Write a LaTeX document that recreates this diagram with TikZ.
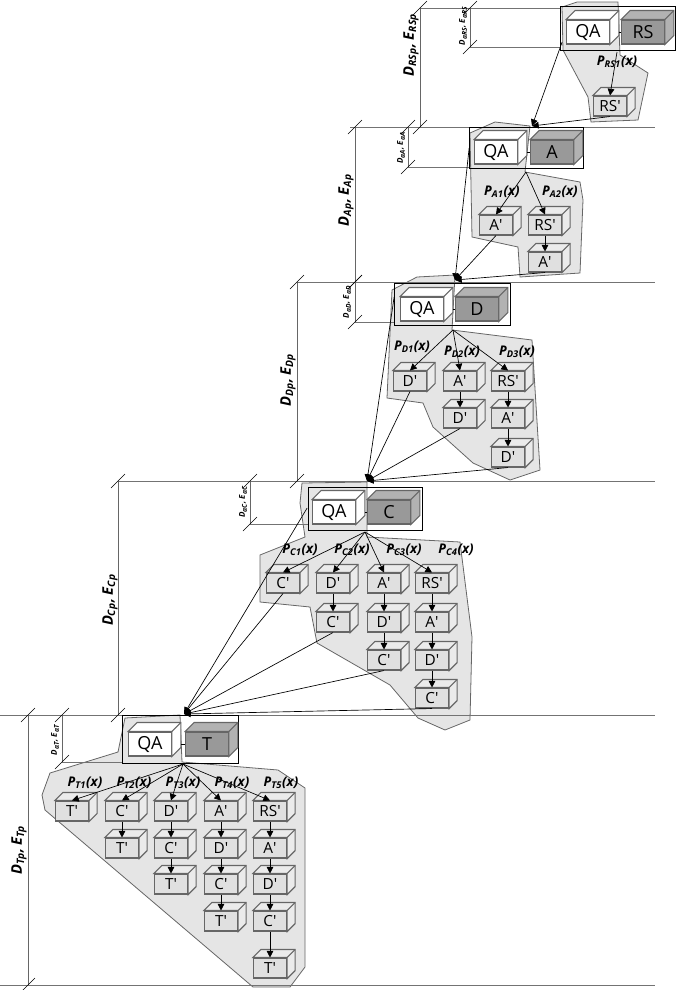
\documentclass[tikz,border=0pt]{standalone}
\usepackage{fontspec}
\setmainfont{Open Sans}
\usetikzlibrary{calc}
\usetikzlibrary{arrows.meta}

\tikzset{
  main/.style={rectangle, draw=black!60, line width=0.8pt, minimum width=32pt, minimum height=18pt, inner sep=0pt, font=\fontsize{13.5}{13.5}\selectfont},
  qa/.style={main, fill=white},
  task/.style={main, fill=black!40},
  sub/.style={rectangle, draw=black!60, line width=0.8pt, fill=black!12, minimum width=25pt, minimum height=15pt, inner sep=0pt, font=\fontsize{11.5}{11.5}\selectfont},
  frame/.style={draw=black, line width=0.6pt},
  zone/.style={draw=black!60, fill=black!10, line width=0.6pt},
  level/.style={draw=black!55, line width=0.6pt},
  dim/.style={draw=black!60, line width=0.6pt},
  plab/.style={font=\fontsize{10}{10}\selectfont\bfseries\itshape},
  dlab/.style={rotate=90, font=\fontsize{11}{11}\selectfont\bfseries\itshape},
  slab/.style={rotate=90, font=\fontsize{6}{6}\selectfont\bfseries\itshape},
  go/.style={-{Triangle[length=5pt,width=5pt]}, line width=0.5pt},
}

% 3D box: name, position, text, style, face colour, depth
\newcommand\cube[6]{%
  \node[#4] (#1) at (#2) {#3};
  \filldraw[draw=black!60, line width=0.8pt, fill=#5] (#1.north west) -- ++(#6,-#6) -- ($(#1.north east)+(#6,-#6)$) -- ($(#1.south east)+(#6,-#6)$) -- (#1.south east) -- (#1.north east) -- cycle;
  \draw[draw=black!60, line width=0.8pt] (#1.north east) -- ++(#6,-#6);
}
\newcommand\subcube[3]{\cube{#1}{#2}{#3}{sub}{black!8}{8}}
\newcommand\tick[1]{\draw[black, line width=0.5pt] ($(#1)+(-7,7)$) -- ($(#1)+(7,-7)$);}

\begin{document}
\begin{tikzpicture}[x=0.75pt, y=-0.75pt]

\useasboundingbox (0,0) rectangle (676,990);

% zones
\draw[zone] (562,7) -- (577,2) -- (618,2) -- (620,55) -- (648,73) -- (638,120) -- (591,122) -- (588,97) -- (563,50) -- cycle;
\draw[zone] (470,133) -- (495,122) -- (530,126) -- (525,172) -- (580,182) -- (583,200) -- (580,273) -- (520,277) -- (518,247) -- (472,237) -- cycle;
\draw[zone] (392,290) -- (417,277) -- (455,275) -- (452,330) -- (532,340) -- (540,470) -- (510,480) -- (473,463) -- (433,427) -- (423,403) -- (387,398) -- cycle;
\draw[zone] (302,483) -- (367,482) -- (367,537) -- (460,542) -- (472,637) -- (470,720) -- (445,730) -- (418,718) -- (390,685) -- (317,643) -- (310,607) -- (260,602) -- (260,555) -- (305,537) -- (300,503) -- cycle;
\draw[zone] (118,752) -- (125,718) -- (180,715) -- (182,762) -- (278,770) -- (305,788) -- (305,967) -- (290,987) -- (253,987) -- (45,810) -- (42,795) -- (50,773) -- cycle;

% level lines
\draw[level] (420,8) -- (560,8);
\draw[level] (470,47) -- (560,47);
\draw[level] (350,127) -- (655,127);
\draw[level] (408,167) -- (470,167);
\draw[level] (297,282) -- (655,282);
\draw[level] (355,322) -- (395,322);
\draw[level] (118,481) -- (655,481);
\draw[level] (250,524) -- (308,524);
\draw[level] (0,715) -- (655,715);
\draw[level] (62,762) -- (122,762);
\draw[level] (0,985) -- (655,985);

% dimensions
\foreach \x/\ya/\yb in {420/8/127, 470/8/47, 355/127/282, 408/127/167, 297/282/481, 355/282/322, 118/481/715, 250/481/524, 28/715/985, 62/715/762} {
  \draw[dim] (\x,\ya) -- (\x,\yb);
  \tick{\x,\ya} \tick{\x,\yb}
}
\node[dlab] (dRS) at (411,45) {D\textsubscript{RSp}, E\textsubscript{RSp}};
\node[slab] (aRS) at (463,26) {D\textsubscript{αRS}, E\textsubscript{αRS}};
\node[dlab] (dA) at (346,200) {D\textsubscript{Ap}, E\textsubscript{Ap}};
\node[slab] (aA) at (401,148) {D\textsubscript{αA}, E\textsubscript{αA}};
\node[dlab] (dD) at (288,380) {D\textsubscript{Dp}, E\textsubscript{Dp}};
\node[slab] (aD) at (347,302) {D\textsubscript{αD}, E\textsubscript{αD}};
\node[dlab] (dC) at (110,600) {D\textsubscript{Cp}, E\textsubscript{Cp}};
\node[slab] (aC) at (243,502) {D\textsubscript{αC}, E\textsubscript{αC}};
\node[dlab] (dT) at (19,850) {D\textsubscript{Tp}, E\textsubscript{Tp}};
\node[slab] (aT) at (55,740) {D\textsubscript{αT}, E\textsubscript{αT}};

% frames and main boxes
\draw[frame] (560,6) rectangle (675,50);
\draw[frame] (469,127) rectangle (583,168);
\draw[frame] (394,283) rectangle (510,325);
\draw[frame] (308,487) rectangle (422,530);
\draw[frame] (122,715) rectangle (238,763);

\cube{qaRS}{588,32}{QA}{qa}{white}{9}
\cube{RS}{643,32}{RS}{task}{black!30}{9}
\cube{qaA}{496,152}{QA}{qa}{white}{9}
\cube{A}{552,152}{A}{task}{black!30}{9}
\cube{qaD}{422,309}{QA}{qa}{white}{9}
\cube{D}{477,309}{D}{task}{black!30}{9}
\cube{qaC}{334,512}{QA}{qa}{white}{9}
\cube{C}{389,512}{C}{task}{black!30}{9}
\cube{qaT}{150,744}{QA}{qa}{white}{9}
\cube{T}{207,744}{T}{task}{black!30}{9}
\foreach \l in {RS,A,D,C,T} \draw[black, line width=0.5pt] ($(qa\l.east)+(9,0)$) -- (\l.west);

% forks and meeting points
\coordinate (fRS) at (617,52);
\coordinate (fA) at (526,172);
\coordinate (fD) at (453,330);
\coordinate (fC) at (365,532);
\coordinate (fT) at (183,764);
\coordinate (mA) at (532,126);
\coordinate (mD) at (455,280);
\coordinate (mC) at (367,481);
\coordinate (mT) at (184,714);

% RS level
\node[plab] (pRS1) at (617,62) {P\textsubscript{RS1}(x)};
\subcube{rs1}{610,106}{RS′}
\draw[go] (fRS) -- (rs1.north);

% A level
\node[plab] (pA1) at (502,192) {P\textsubscript{A1}(x)};
\node[plab] (pA2) at (560,192) {P\textsubscript{A2}(x)};
\subcube{a11}{496,225}{A′}
\subcube{a21}{545,225}{RS′}
\subcube{a22}{545,262}{A′}
\draw[go] (fA) -- (a11.north);
\draw[go] (fA) -- (a21.north);
\draw[go] (a21.south) -- (a22.north);

% D level
\node[plab] (pD1) at (412,347) {P\textsubscript{D1}(x)};
\node[plab] (pD2) at (462,352) {P\textsubscript{D2}(x)};
\node[plab] (pD3) at (517,352) {P\textsubscript{D3}(x)};
\subcube{d11}{410,381}{D′}
\subcube{d21}{460,381}{A′}
\subcube{d22}{460,418}{D′}
\subcube{d31}{508,381}{RS′}
\subcube{d32}{508,418}{A′}
\subcube{d33}{508,457}{D′}
\foreach \t in {d11,d21,d31} \draw[go] (fD) -- (\t.north);
\draw[go] (d21.south) -- (d22.north);
\draw[go] (d31.south) -- (d32.north);
\draw[go] (d32.south) -- (d33.north);

% C level
\node[plab] (pC1) at (300,550) {P\textsubscript{C1}(x)};
\node[plab] (pC2) at (352,550) {P\textsubscript{C2}(x)};
\node[plab] (pC3) at (404,550) {P\textsubscript{C3}(x)};
\node[plab] (pC4) at (456,550) {P\textsubscript{C4}(x)};
\subcube{c11}{283,583}{C′}
\subcube{c21}{333,583}{D′}
\subcube{c22}{333,622}{C′}
\subcube{c31}{384,583}{A′}
\subcube{c32}{384,622}{D′}
\subcube{c33}{384,660}{C′}
\subcube{c41}{432,583}{RS′}
\subcube{c42}{432,622}{A′}
\subcube{c43}{432,660}{D′}
\subcube{c44}{432,698}{C′}
\foreach \t in {c11,c21,c31,c41} \draw[go] (fC) -- (\t.north);
\foreach \a/\b in {c21/c22, c31/c32, c32/c33, c41/c42, c42/c43, c43/c44} \draw[go] (\a.south) -- (\b.north);

% T level
\node[plab] (pT1) at (85,783) {P\textsubscript{T1}(x)};
\node[plab] (pT2) at (134,783) {P\textsubscript{T2}(x)};
\node[plab] (pT3) at (183,783) {P\textsubscript{T3}(x)};
\node[plab] (pT4) at (232,783) {P\textsubscript{T4}(x)};
\node[plab] (pT5) at (281,783) {P\textsubscript{T5}(x)};
\subcube{t11}{72,811}{T′}
\subcube{t21}{122,811}{C′}
\subcube{t22}{122,848}{T′}
\subcube{t31}{171,811}{D′}
\subcube{t32}{171,848}{C′}
\subcube{t33}{171,884}{T′}
\subcube{t41}{221,811}{A′}
\subcube{t42}{221,848}{D′}
\subcube{t43}{221,884}{C′}
\subcube{t44}{221,921}{T′}
\subcube{t51}{270,811}{RS′}
\subcube{t52}{270,848}{A′}
\subcube{t53}{270,884}{D′}
\subcube{t54}{270,921}{C′}
\subcube{t55}{270,968}{T′}
\foreach \t in {t11,t21,t31,t41,t51} \draw[go] (fT) -- (\t.north);
\foreach \a/\b in {t21/t22, t31/t32, t32/t33, t41/t42, t42/t43, t43/t44, t51/t52, t52/t53, t53/t54, t54/t55} \draw[go] (\a.south) -- (\b.north);

% merging into the next level
\draw[go] ($(qaRS.west)+(-4,10)$) -- (mA);
\draw[go] (rs1.south) -- (mA);
\draw[go] ($(qaA.west)+(-5,-4)$) -- (mD);
\foreach \s in {a11,a22} \draw[go] (\s.south) -- (mD);
\draw[go] ($(qaD.west)+(-6,-12)$) -- (mC);
\foreach \s in {d11,d22,d33} \draw[go] (\s.south) -- (mC);
\draw[go] ($(qaC.west)+(-5,-4)$) -- (mT);
\foreach \s in {c11,c22,c33,c44} \draw[go] (\s.south) -- (mT);

\end{tikzpicture}
\end{document}
